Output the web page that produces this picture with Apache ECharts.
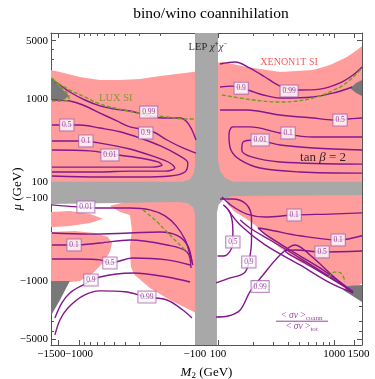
<!DOCTYPE html>
<html>
<head>
<meta charset="utf-8">
<script src="https://cdn.jsdelivr.net/npm/echarts@6.0.0/dist/echarts.min.js"></script>
<style>
html, body { margin: 0; padding: 0; background: #fff; }
#chart { width: 375px; height: 379px; }
</style>
</head>
<body>
<div id="chart"></div>
<script>
// all points are [M2, mu] in GeV; the axes use a log scale on each side, linear inside +-100
var xMajor = [-1500, -1000, -100, 100, 1000, 1500];
var xMinor = [-900, -800, -700, -600, -500, -400, -300, -200, 200, 300, 400, 500, 600, 700, 800, 900];
var yMajor = [-5000, -1000, -100, 100, 1000, 5000];
var yMinor = [-4000, -3000, -2000, -900, -800, -700, -600, -500, -400, -300, -200,
              200, 300, 400, 500, 600, 700, 800, 900, 2000, 3000, 4000];

// excluded regions
var lepCross = [[-99,6190],[99,6190],[99,183],[104,134],[115,111],[134,100],[1740,100],[1740,-60],[132,-72],[112,-102],[101,-120],[90,-150],[90,-5860],[-99,-5860],[-99,-153],[-104,-127],[-117,-114],[-140,-111],[-1740,-117],[-1740,100],[-129,100],[-110,107],[-102,127],[-99,159]];
var xenonUL = [[-1740,2220],[-1455,2100],[-980,1830],[-660,1680],[-440,1680],[-297,1730],[-200,1880],[-127,2030],[-56,2160],[-56,0],[-1740,0]];
var xenonUR = [[73,2690],[110,2770],[177,2410],[342,2100],[658,2220],[922,2550],[1290,3180],[1575,3860],[1740,4320],[1740,0],[73,0]];
var xenonLL1 = [[-540,-124],[-400,-111],[-56,-111],[-56,-2550],[-110,-2220],[-164,-1680],[-244,-1205],[-330,-840],[-356,-672],[-363,-386],[-349,-241],[-363,-159],[-440,-146]];
var xenonLL2 = [[-1740,-146],[-1195,-142],[-800,-155],[-620,-177],[-800,-198],[-1195,-216],[-1740,-223]];
var xenonLL3 = [[-1740,-255],[-1085,-248],[-730,-262],[-561,-292],[-518,-346],[-540,-443],[-620,-602],[-755,-794],[-980,-990],[-1195,-1020],[-1740,-1020]];
var xenonLR = [[115,-48],[1740,-24],[1740,-1047],[1455,-1270],[922,-887],[508,-585],[342,-397],[254,-277],[208,-210],[171,-173],[140,-146],[122,-120]];
var darkUL = [[-1740,1800],[-1216,1075],[-1320,990],[-1740,965]];
var darkUR = [[1371,1340],[1545,1550],[1740,1680],[1740,1075],[1545,1170]];
var darkLL = [[-1740,-990],[-1195,-990],[-1455,-1680],[-1740,-2620]];
var darkLR = [[1195,-1270],[1320,-1140],[1740,-1110],[1740,-1775]];

// LUX SI limit
var luxLines = [
  [[-1700,1775],[-1455,1420],[-1240,1140],[-1215,990],[-1400,937],[-1700,937]],
  [[-1670,1680],[-1195,1270],[-890,1050],[-660,863],[-490,773],[-342,691],[-244,636],[-174,603],[-121,570],[-99,570]],
  [[108,1110],[177,990],[342,912],[658,1020],[1125,1384],[1427,1775],[1740,2344]],
  [[-280,-138],[-220,-183],[-174,-255],[-140,-346],[-117,-443]],
  [[900,-900],[1000,-775],[1150,-800],[1243,-1020]]
];

// <sigma v>_coann / <sigma v>_tot contours
var ratioLines = [
  [[-1670,1680],[-1195,1205],[-887,965],[-658,820],[-490,750],[-363,710],[-188,585],[-134,585],[-117,525],[-106,420],[-90,318]],
  [[-1706,965],[-1195,937],[-922,840],[-658,672],[-470,540],[-363,458],[-230,400],[-174,318],[-127,255],[-90,221]],
  [[-1706,482],[-980,482],[-658,443],[-443,400],[-298,336],[-198,270],[-140,210],[-115,168],[-122,131],[-164,117],[-298,114],[-658,114],[-1706,117]],
  [[-1706,310],[-980,310],[-658,292],[-363,248],[-221,199],[-164,168],[-149,146],[-181,134],[-363,134],[-658,131],[-1706,131]],
  [[-1706,241],[-803,235],[-540,216],[-298,193],[-208,173],[-192,159],[-235,150],[-443,150],[-1706,150]],
  [[104,2620],[140,2770],[188,2340],[254,1826],[342,1420],[490,1273],[755,1305],[1125,1550],[1455,1930],[1740,2410]],
  [[104,1384],[132,1420],[181,1273],[245,1110],[342,1020],[658,1048],[1062,1205],[1427,1384]],
  [[104,730],[177,730],[342,636],[658,585],[980,553],[1290,570],[1740,585]],
  [[1740,345],[658,345],[342,386],[188,458],[134,458],[124,365],[129,241],[155,183],[230,146],[508,131],[1740,127]],
  [[1740,241],[658,255],[342,277],[208,318],[164,300],[160,241],[194,199],[342,173],[1740,163]],
  [[108,-84],[132,-124],[177,-155],[254,-168],[452,-159],[922,-155],[1740,-150]],
  [[1740,-283],[1083,-318],[508,-283],[280,-241],[221,-228],[254,-270],[417,-420],[755,-691],[1455,-1340]],
  [[1740,-432],[787,-443],[460,-420],[378,-432],[562,-602],[922,-912],[1455,-1340]],
  [[155,-183],[188,-228],[280,-318],[508,-525],[922,-887],[1455,-1340]],
  [[122,-138],[155,-210],[254,-365],[508,-636],[922,-1047],[1455,-1384]],
  [[111,-120],[127,-150],[134,-241],[134,-336],[127,-432],[111,-495],[95,-495]],
  [[104,-102],[132,-102],[174,-117],[194,-173],[194,-318],[184,-585],[168,-794],[127,-912],[82,-1047]],
  [[82,-2690],[122,-2620],[155,-2220],[188,-1340],[240,-863],[342,-482],[460,-365],[619,-482],[1020,-912],[1455,-1384]],
  [[-1706,-120],[-1020,-127],[-658,-131],[-363,-131],[-244,-138],[-181,-163],[-145,-215],[-121,-318],[-110,-482],[-104,-636]],
  [[-1706,-365],[-1100,-365],[-658,-346],[-363,-318],[-174,-365],[-117,-443],[-108,-691]],
  [[-1706,-262],[-803,-270],[-363,-262],[-200,-255],[-140,-283],[-115,-375],[-106,-585]],
  [[-1706,-540],[-980,-540],[-658,-553],[-540,-602],[-342,-525],[-174,-553],[-110,-636]],
  [[-1608,-2770],[-1400,-1826],[-1195,-1384],[-922,-1110],[-658,-887],[-342,-794],[-174,-887],[-110,-1020]],
  [[-1608,-4430],[-1455,-2930],[-1242,-2100],[-922,-1500],[-658,-1305],[-401,-1340],[-259,-1550],[-174,-1680],[-127,-2220],[-106,-2770]]
];
var ratioLabels = [
  [-250,690,'0.99'],[-265,386,'0.9'],[-1270,482,'0.5'],[-870,310,'0.1'],[-540,210,'0.01'],
  [409,1240,'0.99'],[158,1340,'0.9'],[1125,553,'0.5'],[401,386,'0.1'],[230,318,'0.01'],
  [452,-159,'0.1'],[1083,-318,'0.1'],[787,-443,'0.5'],[134,-336,'0.5'],[184,-585,'0.9'],[230,-1160,'0.99'],
  [-870,-127,'0.01'],[-1100,-365,'0.1'],[-540,-602,'0.5'],[-787,-965,'0.9'],[-259,-1550,'0.99']
];

function tr(v) {
  var a = Math.abs(v);
  return a < 100 ? v / 1000 : Math.sign(v) * (Math.log10(a) - 1.9);
}
function conv(arr) {
  return arr.map(function (p) { return [tr(p[0]), tr(p[1])]; });
}
function tickText(v, list) {
  for (var i = 0; i < list.length; i++) {
    if (Math.abs(tr(list[i]) - v) < 1e-6) return String(list[i]).replace('-', '\u2212');
  }
  return '';
}

var serif = 'Liberation Serif';
var frameColor = '#555';

function axis(kind, pos, values, len, showLine, labels, pad) {
  var a = {
    type: 'value', position: pos,
    min: kind === 'x' ? -1.34 : -1.868,
    max: kind === 'x' ? 1.34 : 1.892,
    splitLine: { show: false },
    axisLine: { show: showLine, onZero: false, lineStyle: { color: frameColor, width: 1 } },
    axisTick: { show: len > 0, inside: true, length: len, customValues: values.map(tr), lineStyle: { color: frameColor } },
    axisLabel: { show: false }
  };
  if (labels) {
    a.axisLabel = {
      show: true, customValues: labels.map(tr), color: '#000', fontFamily: serif, fontSize: 11,
      margin: kind === 'x' ? 4 : 3, hideOverlap: false, showMinLabel: true, showMaxLabel: true,
      padding: pad || 0,
      formatter: function (v) { return tickText(v, labels); }
    };
  }
  return a;
}

// the outermost x labels get their own axes and are nudged outwards, as in the original frame
var xAxes = [
  axis('x', 'bottom', xMajor, 5, true, [-1000, -100, 100, 1000]),
  axis('x', 'bottom', xMinor, 3, false, [-1500], [0, 14, 0, 0]),
  axis('x', 'bottom', [], 0, false, [1500], [0, 0, 0, 8]),
  axis('x', 'top', xMajor, 5, true, null),
  axis('x', 'top', xMinor, 3, false, null)
];
xAxes[0].name = '{i|M}{s|2}{n| (GeV)}';
xAxes[0].nameLocation = 'middle';
xAxes[0].nameGap = 20;
xAxes[0].nameTextStyle = { rich: {
  i: { fontFamily: serif, fontStyle: 'italic', fontSize: 13, color: '#000' },
  s: { fontFamily: serif, fontSize: 9, color: '#000', padding: [6, 0, 0, 0] },
  n: { fontFamily: serif, fontSize: 13, color: '#000' }
} };
var yAxes = [
  axis('y', 'left', yMajor, 5, true, yMajor),
  axis('y', 'left', yMinor, 3, false, null),
  axis('y', 'right', yMajor, 5, true, null),
  axis('y', 'right', yMinor, 3, false, null)
];
yAxes[0].name = '{i|\u03bc}{n| (GeV)}';
yAxes[0].nameLocation = 'middle';
yAxes[0].nameGap = 27;
yAxes[0].nameMoveOverlap = false;
yAxes[0].nameTextStyle = { rich: {
  i: { fontFamily: serif, fontStyle: 'italic', fontSize: 13, color: '#000' },
  n: { fontFamily: serif, fontSize: 13, color: '#000' }
} };

function region(arr, color, z) {
  return {
    type: 'custom', z: z, silent: true, clip: true,
    data: [[0, 0]],
    renderItem: function (params, api) {
      var points = arr.map(function (p) { return api.coord([tr(p[0]), tr(p[1])]); });
      return { type: 'polygon', shape: { points: points }, style: { fill: color } };
    }
  };
}

var series = [];
[xenonUL, xenonUR, xenonLL1, xenonLL2, xenonLL3, xenonLR].forEach(function (r) {
  series.push(region(r, '#ff9c9c', 1));
});
series.push(region(lepCross, '#a8a8a8', 2));
[darkUL, darkUR, darkLL, darkLR].forEach(function (r) {
  series.push(region(r, '#787878', 3));
});
ratioLines.forEach(function (l) {
  series.push({
    type: 'line', data: conv(l), showSymbol: false, smooth: 0.35, silent: true, z: 4,
    lineStyle: { color: '#84178c', width: 1.4 }
  });
});
luxLines.forEach(function (l) {
  series.push({
    type: 'line', data: conv(l), showSymbol: false, smooth: 0.35, silent: true, z: 5,
    lineStyle: { color: '#6f9f1c', width: 1.4, type: [4, 2] }
  });
});
series.push({
  type: 'scatter', z: 6, silent: true, symbolSize: 1,
  itemStyle: { color: 'rgba(0,0,0,0)' },
  data: ratioLabels.map(function (d) { return { value: [tr(d[0]), tr(d[1])], name: d[2] }; }),
  label: {
    show: true, position: 'inside', formatter: '{b}',
    fontFamily: serif, fontSize: 7.5, color: '#84178c',
    backgroundColor: '#fff', borderColor: '#a968b0', borderWidth: 1, padding: [2, 2, 1, 2]
  }
});

// text annotations placed in data coordinates
var notes = [
  { at: [13, 4200], text: '{n|LEP }{i|\u03c7}{p|+}{i|\u03c7}{p|\u2212}', color: '#000', size: 10.5 },
  { at: [409, 2770], text: '{n|XENON1T SI}', color: '#ff2a2a', size: 10 },
  { at: [-480, 1020], text: '{n|LUX SI}', color: '#5f9e18', size: 10.5 },
  { at: [803, 193], text: '{n|tan }{i|\u03b2}{n| = 2}', color: '#000', size: 13 },
  { at: [528, -3030], text: '{n|< }{i|\u03c3v}{n| >}{s|coann}\n{hr|}\n{n|< }{i|\u03c3v}{n| >}{s|tot}', color: '#84178c', size: 9.5 }
];
notes.forEach(function (n) {
  series.push({
    type: 'scatter', z: 7, silent: true, symbolSize: 1,
    itemStyle: { color: 'rgba(0,0,0,0)' },
    data: [[tr(n.at[0]), tr(n.at[1])]],
    label: {
      show: true, position: 'inside', formatter: n.text, align: 'center',
      rich: {
        n: { fontFamily: serif, fontSize: n.size, color: n.color, align: 'center' },
        i: { fontFamily: serif, fontStyle: 'italic', fontSize: n.size, color: n.color },
        p: { fontFamily: serif, fontSize: n.size * 0.7, color: n.color, padding: [0, 0, 6, 0] },
        s: { fontFamily: serif, fontSize: n.size * 0.75, color: n.color, padding: [4, 0, 0, 0] },
        hr: { width: 52, height: 0, borderColor: n.color, borderWidth: 0.6, align: 'center' }
      }
    }
  });
});

var chart = echarts.init(document.getElementById('chart'));
chart.setOption({
  animation: false,
  backgroundColor: '#fff',
  title: {
    text: 'bino/wino coannihilation', left: 206, top: 1, textAlign: 'center',
    textStyle: { fontFamily: serif, fontSize: 15.5, fontWeight: 'normal', color: '#000' }
  },
  grid: { left: 51, right: 13, top: 33, bottom: 34, outerBoundsMode: 'none' },
  xAxis: xAxes,
  yAxis: yAxes,
  series: series
});
</script>
</body>
</html>
